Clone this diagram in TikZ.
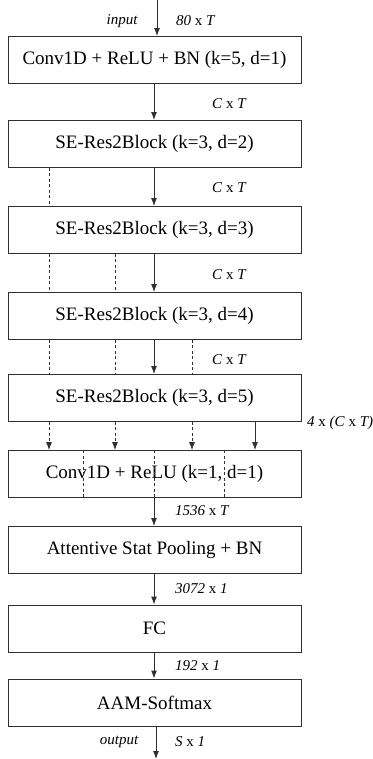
\documentclass[tikz,border=0pt]{standalone}
\usepackage{fontspec}
\setmainfont{Liberation Serif}
\usetikzlibrary{arrows.meta}
\definecolor{ln}{HTML}{303030}
\tikzset{
  blk/.style={draw=ln, line width=0.9pt, minimum width=293pt, minimum height=47pt, inner sep=0pt, font=\fontsize{19}{22}\selectfont, text=black},
  lbl/.style={font=\fontsize{15}{18}\selectfont, inner sep=0pt, anchor=west, text=black},
  arr/.style={draw=ln, line width=0.9pt, -{Latex[length=8pt,width=6pt]}},
  dsh/.style={draw=ln, line width=0.7pt, dash pattern=on 3pt off 2.5pt},
  darr/.style={dsh, -{Latex[length=8pt,width=6pt]}}
}
\begin{document}
\begin{tikzpicture}[x=1pt,y=-1pt]
\useasboundingbox (0,0) rectangle (372,759);
\node[blk] (b1) at (154.5,60) {Conv1D + ReLU + BN (k=5, d=1)};
\node[blk] (b2) at (154.5,144) {SE-Res2Block (k=3, d=2)};
\node[blk] (b3) at (154.5,230) {SE-Res2Block (k=3, d=3)};
\node[blk] (b4) at (154.5,316) {SE-Res2Block (k=3, d=4)};
\node[blk] (b5) at (154.5,398) {SE-Res2Block (k=3, d=5)};
\node[blk] (b6) at (154.5,474) {Conv1D + ReLU (k=1, d=1)};
\node[blk] (b7) at (154.5,550) {Attentive Stat Pooling + BN};
\node[blk] (b8) at (154.5,628.5) {FC};
\node[blk] (b9) at (154.5,702.5) {AAM-Softmax};
\coordinate (in) at (157,0);
\coordinate (out) at (156,759);
\coordinate (xa) at (49,0);
\coordinate (xb) at (115,0);
\coordinate (xc) at (192,0);
\coordinate (xd) at (255,0);
\coordinate (xm) at (154,0);
\coordinate (v1) at (83,0);
\coordinate (v2) at (154,0);
\coordinate (v3) at (224,0);
% main arrows
\draw[arr] (in) -- (in |- b1.north);
\draw[arr] (xm |- b1.south) -- (xm |- b2.north);
\draw[arr] (xm |- b2.south) -- (xm |- b3.north);
\draw[arr] (xm |- b3.south) -- (xm |- b4.north);
\draw[arr] (xm |- b4.south) -- (xm |- b5.north);
\draw[arr] (xd |- b5.south) -- (xd |- b6.north);
\draw[arr] (xm |- b6.south) -- (xm |- b7.north);
\draw[arr] (xm |- b7.south) -- (xm |- b8.north);
\draw[arr] (xm |- b8.south) -- (xm |- b9.north);
\draw[arr] (out |- b9.south) -- (out);
% dashed skip lines
\draw[dsh] (xa |- b2.south) -- (xa |- b3.north);
\draw[dsh] (xa |- b3.south) -- (xa |- b4.north);
\draw[dsh] (xb |- b3.south) -- (xb |- b4.north);
\draw[dsh] (xa |- b4.south) -- (xa |- b5.north);
\draw[dsh] (xb |- b4.south) -- (xb |- b5.north);
\draw[dsh] (xc |- b4.south) -- (xc |- b5.north);
\draw[darr] (xa |- b5.south) -- (xa |- b6.north);
\draw[darr] (xb |- b5.south) -- (xb |- b6.north);
\draw[darr] (xc |- b5.south) -- (xc |- b6.north);
% dividers inside b6
\draw[dsh] (v1 |- b6.north) -- (v1 |- b6.south);
\draw[dsh] (v2 |- b6.north) -- (v2 |- b6.south);
\draw[dsh] (v3 |- b6.north) -- (v3 |- b6.south);
% labels
\node[lbl, anchor=center] (lin) at (122,21) {\itshape input};
\node[lbl] (l0) at (176,21) {\textit{80} x \textit{T}};
\node[lbl] (l1) at (212,104) {\textit{C} x \textit{T}};
\node[lbl] (l2) at (212,188) {\textit{C} x \textit{T}};
\node[lbl] (l3) at (212,275) {\textit{C} x \textit{T}};
\node[lbl] (l4) at (212,360) {\textit{C} x \textit{T}};
\node[lbl] (l5) at (307,423) {\textit{4} x \textit{(C} x \textit{T)}};
\node[lbl] (l6) at (175,511) {\textit{1536} x \textit{T}};
\node[lbl] (l7) at (175,589) {\textit{3072} x \textit{1}};
\node[lbl] (l8) at (175,666) {\textit{192} x \textit{1}};
\node[lbl, anchor=center] (lout) at (119,742) {\itshape output};
\node[lbl] (l9) at (175,742) {\textit{S} x \textit{1}};
\end{tikzpicture}
\end{document}
